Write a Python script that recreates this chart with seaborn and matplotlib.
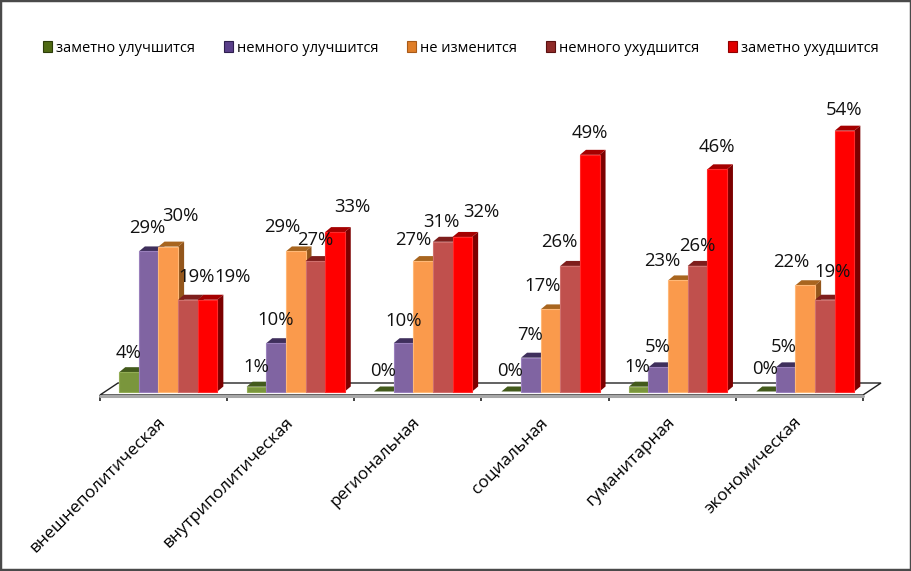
import numpy as np
import pandas as pd
import matplotlib
matplotlib.use("Agg")
import matplotlib.pyplot as plt
from matplotlib.patches import Polygon, Patch, Rectangle
from matplotlib.transforms import IdentityTransform
from matplotlib.ticker import FixedLocator, FixedFormatter
import seaborn as sns

categories = ["внешнеполитическая", "внутриполитическая", "региональная",
              "социальная", "гуманитарная", "экономическая"]
series_names = ["заметно улучшится", "немного улучшится", "не изменится",
                "немного ухудшится", "заметно ухудшится"]
much_better = [4, 1, 0, 0, 1, 0]
some_better = [29, 10, 10, 7, 5, 5]
no_change = [30, 29, 27, 17, 23, 22]
some_worse = [19, 27, 31, 26, 26, 19]
much_worse = [19, 33, 32, 49, 46, 54]
all_series = [much_better, some_better, no_change, some_worse, much_worse]

front_colors = ["#7A963C", "#8064A2", "#FA9A4C", "#C0504D", "#FF0000"]
top_colors = ["#435A1C", "#3F2F5C", "#A8651F", "#7E1E1C", "#A50000"]
side_colors = ["#4F6A22", "#46346A", "#93561B", "#7A1A18", "#7C0000"]
edge_colors = ["#93AD55", "#9A80BC", "#FFB877", "#D0706D", "#FF2A2A"]
legend_colors = ["#4F6A14", "#5A3F8A", "#E07E28", "#8E2A28", "#E00000"]
legend_edges = ["#2C3D0A", "#2E1F4E", "#A85A18", "#5A1010", "#900000"]

# hand-placed label offsets from each bar's top centre, in pixels (right, up)
label_dx = [[0, -1, 12, 9, 25], [0, 0, -13, 0, 17], [-1, 0, -10, -1, 19],
            [-1, -1, -8, -11, 0], [-1, -1, -16, 0, 0], [-1, -2, -14, 8, -1]]
label_dy = [[19, 23, 31, 23, 23], [20, 23, 24, 21, 25], [21, 22, 21, 20, 25],
            [21, 23, 23, 24, 22], [20, 20, 19, 20, 22], [22, 20, 23, 28, 21]]

df = pd.DataFrame({
    "категория": categories * len(series_names),
    "серия": [s for s in series_names for _ in categories],
    "значение": [v for vals in all_series for v in vals],
})

sns.set_theme(style="white")
plt.rcParams["font.family"] = ["Open Sans", "DejaVu Sans"]

W, H = 912, 571
fig = plt.figure(figsize=(W / 100, H / 100), dpi=100, facecolor="white")


def box(x0, x1, y_top, y_bottom):
    return [x0 / W, 1 - y_bottom / H, (x1 - x0) / W, (y_bottom - y_top) / H]


# floor and category axis
ax_floor = fig.add_axes(box(100, 863, 300, 395))
ax_floor.set_xlim(-0.5, 5.5)
ax_floor.set_ylim(0, 1)
ax_floor.patch.set_alpha(0)
for s in ax_floor.spines.values():
    s.set_visible(False)
ax_floor.set_yticks([])
ax_floor.xaxis.set_major_locator(FixedLocator(np.arange(-0.5, 6, 1)))
ax_floor.xaxis.set_major_formatter(FixedFormatter([""] * 7))
ax_floor.xaxis.set_minor_locator(FixedLocator(np.arange(6)))
ax_floor.xaxis.set_minor_formatter(FixedFormatter(categories))
ax_floor.tick_params(axis="x", which="major", length=4.5, width=1.2, color="#222222", bottom=True)
ax_floor.tick_params(axis="x", which="minor", length=0, pad=18, labelsize=12.4, labelcolor="black")
for t in ax_floor.get_xticklabels(minor=True):
    t.set_rotation(45)
    t.set_ha("right")
    t.set_va("center")
    t.set_rotation_mode("anchor")

fl, fr = 100, 863
f_front, f_back = H - 395, H - 383
floor_pts = [(fl, f_front), (fr, f_front), (fr + 18, f_back), (fl + 18, f_back)]
fig.add_artist(Polygon(floor_pts, closed=True, facecolor="white", edgecolor="#222222",
                       lw=1.0, transform=IdentityTransform(), zorder=1))
fig.add_artist(plt.Line2D([fl, fr], [f_front - 0.5, f_front - 0.5], color="#A8A8A8", lw=2.2,
                          transform=IdentityTransform(), zorder=1.5))

# bars
ax = fig.add_axes(box(104.6, 869.0, 101.7, 391.5))
ax.set_zorder(5)
ax.patch.set_alpha(0)
sns.barplot(data=df, x="категория", y="значение", hue="серия", hue_order=series_names,
            order=categories, palette=front_colors, saturation=1, width=0.77, gap=0,
            legend=False, ax=ax)
ax.set_xlim(-0.5, 5.5)
ax.set_ylim(0, 60)
ax.set_axis_off()
fig.canvas.draw()

DX, DY = 6, 5
for si, container in enumerate(ax.containers):
    for gi, bar in enumerate(container):
        x0, w, h = bar.get_x(), bar.get_width(), bar.get_height()
        (px0, py0), (px1, py1) = ax.transData.transform([(x0, 0), (x0 + w, h)])
        z = 3 + gi * 10 + si * 1.0
        side = [(px1, py0), (px1, py1), (px1 + DX, py1 + DY), (px1 + DX, py0 + DY)]
        top = [(px0, py1), (px1, py1), (px1 + DX, py1 + DY), (px0 + DX, py1 + DY)]
        ax.add_patch(Polygon(side, closed=True, fc=side_colors[si], ec="none",
                             transform=IdentityTransform(), zorder=z, clip_on=False))
        ax.add_patch(Polygon(top, closed=True, fc=top_colors[si], ec="none",
                             transform=IdentityTransform(), zorder=z + 0.1, clip_on=False))
        bar.set_zorder(z + 0.2)
        bar.set_clip_on(False)
        if h > 0:
            bar.set_edgecolor(edge_colors[si])
            bar.set_linewidth(0.8)
        else:
            bar.set_linewidth(0)
        ax.annotate(f"{all_series[si][gi]}%", xy=(x0 + w / 2, h),
                    xytext=(label_dx[gi][si], label_dy[gi][si]), textcoords="offset pixels",
                    ha="center", va="center", fontsize=13.3, color="#111111",
                    annotation_clip=False, zorder=200)

# legend
handles = [Patch(facecolor=c, edgecolor=e, linewidth=0.8, label=n)
           for c, e, n in zip(legend_colors, legend_edges, series_names)]
fig.legend(handles=handles, loc="center left", bbox_to_anchor=(43 / W, 1 - 48 / H),
           ncol=5, frameon=False, fontsize=10.55, borderpad=0, borderaxespad=0,
           handlelength=0.62, handleheight=0.7, handletextpad=0.28, columnspacing=1.95,
           labelcolor="black")

# picture frame
fig.add_artist(Rectangle((0, 0), 1, 1, transform=fig.transFigure, fill=False,
                         edgecolor="#4A4A4A", lw=3.2, zorder=500))

fig.savefig("out.png", dpi=100, facecolor="white")
